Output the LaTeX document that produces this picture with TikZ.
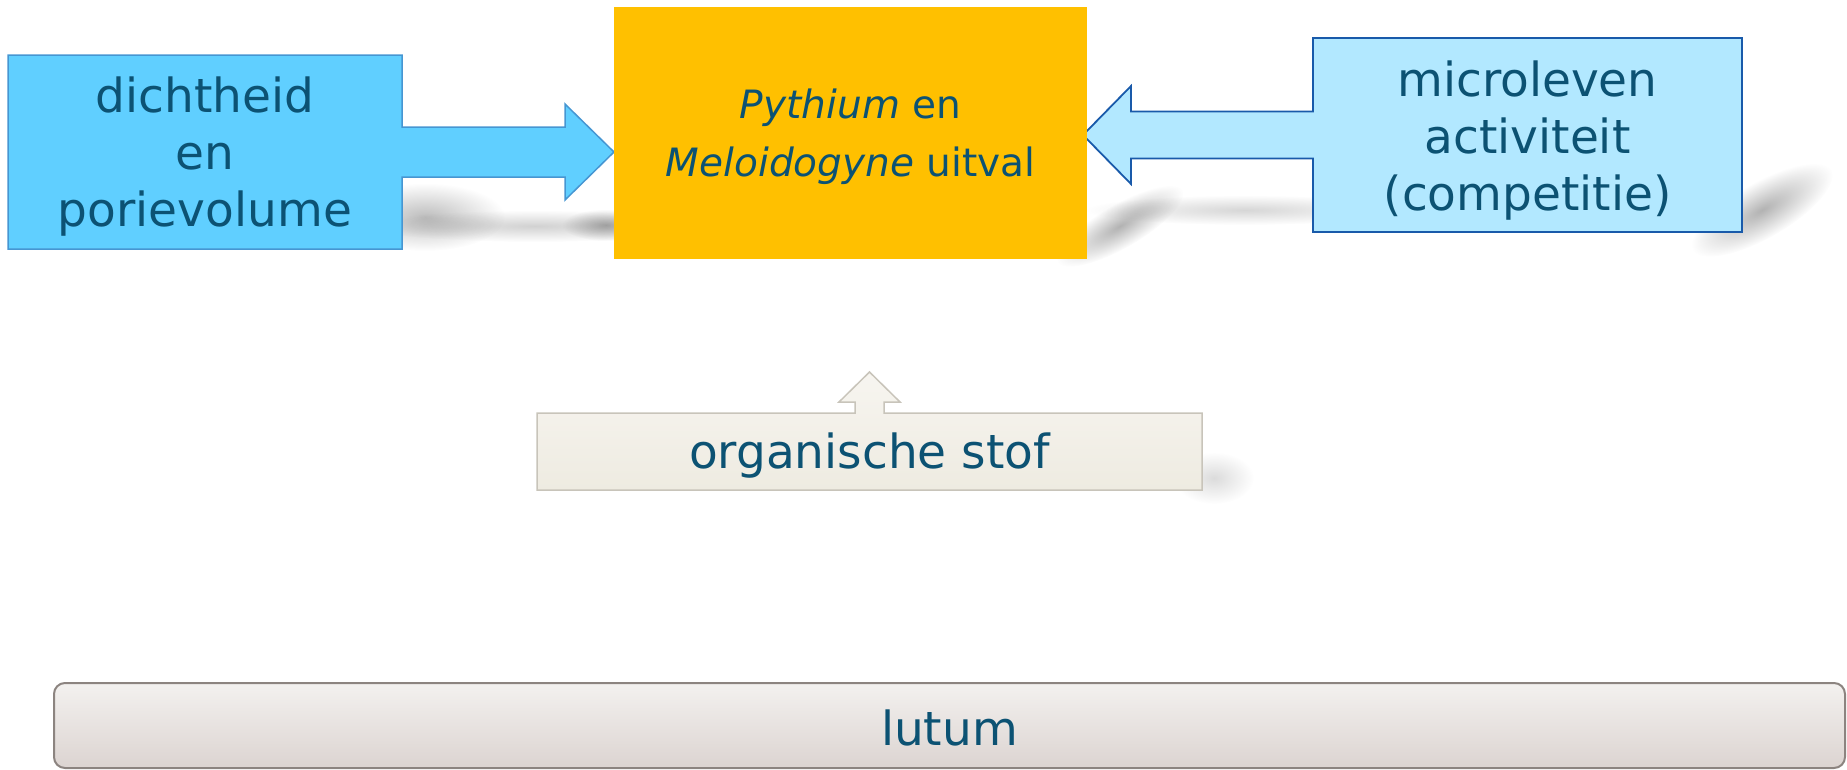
\documentclass[tikz,border=0pt]{standalone}
\usepackage{fontspec}
\setmainfont{DejaVu Sans}
\usetikzlibrary{calc,fadings}
\definecolor{txt}{RGB}{12,82,115}
\definecolor{lbfill}{RGB}{96,207,255}
\definecolor{lbdraw}{RGB}{70,150,210}
\definecolor{rbfill}{RGB}{178,232,255}
\definecolor{rbdraw}{RGB}{25,90,170}
\definecolor{orng}{RGB}{255,192,0}
\definecolor{osfilltop}{RGB}{247,245,240}
\definecolor{osfillbot}{RGB}{238,235,225}
\definecolor{osdraw}{RGB}{200,196,186}
\definecolor{lutop}{RGB}{243,241,239}
\definecolor{lubot}{RGB}{220,212,209}
\definecolor{ludraw}{RGB}{140,132,128}
\tikzfading[name=softblob, inner color=transparent!0, outer color=transparent!100]
\pgfdeclarelayer{shadowlayer}
\pgfdeclarelayer{bg}
\pgfsetlayers{shadowlayer,bg,main}
\tikzset{
  shapebox/.style={inner sep=0pt, outer sep=0pt},
  lbl/.style={text=txt, align=center, inner sep=0pt, font=\fontsize{47}{57}\selectfont},
  blob/.style={fill=black, path fading=softblob, fill opacity=#1}
}
\begin{document}
\begin{tikzpicture}[x=1pt,y=-1pt]
\useasboundingbox (0,0) rectangle (1847,769);
% shape nodes
\node[shapebox, minimum width=394pt, minimum height=194pt] (dens) at (205,152) {};
\node[shapebox, fill=orng, minimum width=473pt, minimum height=252pt] (uitval) at (850.5,133) {};
\node[shapebox, minimum width=429pt, minimum height=194pt] (micro) at (1527.5,135) {};
\node[shapebox, minimum width=665pt, minimum height=77pt] (org) at (869.5,451.5) {};
\node[shapebox, minimum width=1791pt, minimum height=85pt] (lutum) at (949.5,725.5) {};
% text nodes
\node[lbl] (denstxt) at ($(dens.center)+(0,5)$) {dichtheid\\en\\porievolume};
\node[lbl, font=\fontsize{39}{58}\selectfont] (uitvaltxt) at ($(uitval.center)+(0,4)$) {\textit{Pythium} en\\\textit{Meloidogyne} uitval};
\node[lbl] (microtxt) at ($(micro.center)+(0,6)$) {microleven\\activiteit\\(competitie)};
\node[lbl] (orgtxt) at ($(org.center)+(0,4)$) {organische stof};
\node[lbl] (lutumtxt) at ($(lutum.center)+(0,2)$) {lutum};
% shadows (soft blobs)
\begin{pgfonlayer}{shadowlayer}
\fill[blob=0.26] (425,217) ellipse (80 and 34);
\fill[blob=0.18] (535,226) ellipse (170 and 16);
\fill[blob=0.30] (606,225) ellipse (44 and 16);
\begin{scope}[transform canvas={shift={(1120,226)}, rotate=30}]
\fill[blob=0.30] (0,0) ellipse (72 and 22);
\end{scope}
\fill[blob=0.16] (1245,210) ellipse (160 and 15);
\begin{scope}[transform canvas={shift={(1762,210)}, rotate=30}]
\fill[blob=0.30] (0,0) ellipse (80 and 28);
\end{scope}
\fill[blob=0.14] (1214,478) ellipse (40 and 26);
\end{pgfonlayer}
\begin{pgfonlayer}{bg}
% left callout
\coordinate (ltip) at (uitval.west |- dens.east);
\path[fill=lbfill, draw=lbdraw, line width=1.5pt, line join=miter]
  (dens.north west) -- (dens.north east) -- ($(dens.east)+(0,-25)$)
  -- ($(ltip)+(-49,-25)$) -- ($(ltip)+(-49,-48)$) -- (ltip)
  -- ($(ltip)+(-49,48)$) -- ($(ltip)+(-49,25)$) -- ($(dens.east)+(0,25)$)
  -- (dens.south east) -- (dens.south west) -- cycle;
% right callout
\coordinate (rtip) at ($(uitval.east |- micro.west)+(-4,0)$);
\path[fill=rbfill, draw=rbdraw, line width=1.8pt, line join=miter]
  (micro.north east) -- (micro.north west) -- ($(micro.west)+(0,-23.5)$)
  -- ($(rtip)+(48,-23.5)$) -- ($(rtip)+(48,-49)$) -- (rtip)
  -- ($(rtip)+(48,49)$) -- ($(rtip)+(48,23.5)$) -- ($(micro.west)+(0,23.5)$)
  -- (micro.south west) -- (micro.south east) -- cycle;
% organic callout
\coordinate (utip) at ($(org.north)+(0,-41)$);
\path[top color=osfilltop, bottom color=osfillbot, draw=osdraw, line width=1.5pt, line join=miter]
  (org.north west) -- ($(org.north)+(-14.5,0)$) -- ($(utip)+(-14.5,30)$) -- ($(utip)+(-30.5,30)$)
  -- (utip) -- ($(utip)+(30.5,30)$) -- ($(utip)+(14.5,30)$) -- ($(org.north)+(14.5,0)$)
  -- (org.north east) -- (org.south east) -- (org.south west) -- cycle;
% lutum bar
\path[top color=lutop, bottom color=lubot, draw=ludraw, line width=2pt, rounded corners=11pt]
  (lutum.north west) rectangle (lutum.south east);
\end{pgfonlayer}
\end{tikzpicture}
\end{document}
